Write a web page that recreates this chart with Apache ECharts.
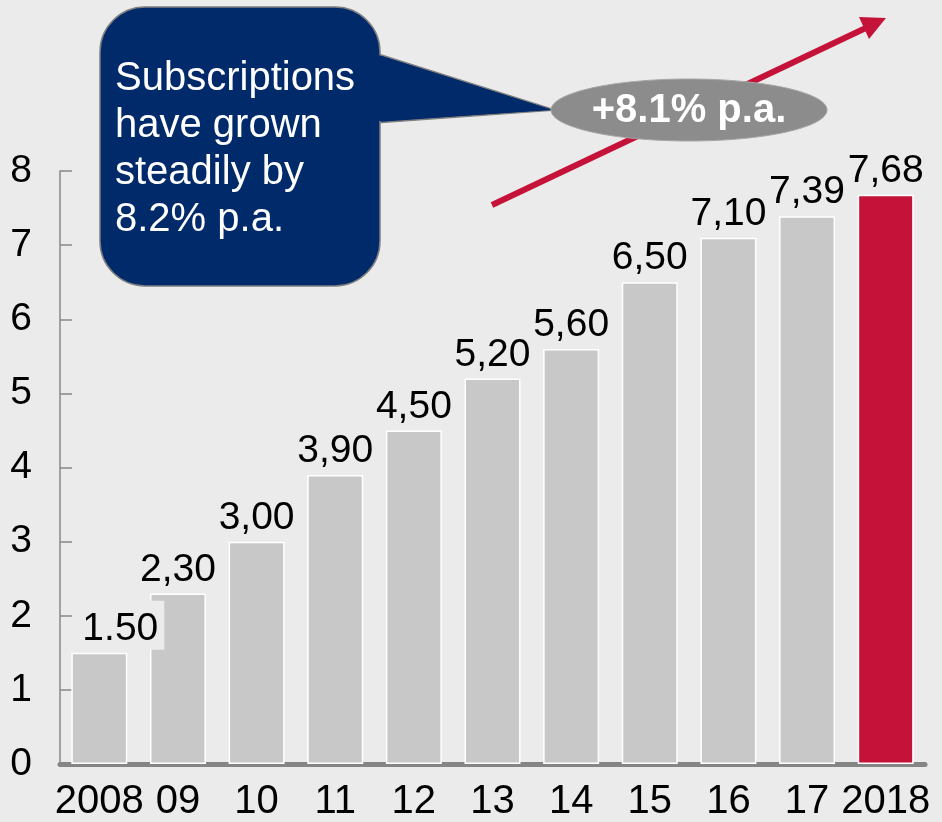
<!DOCTYPE html>
<html>
<head>
<meta charset="utf-8">
<script src="https://cdn.jsdelivr.net/npm/echarts@6/dist/echarts.min.js"></script>
<style>
html,body{margin:0;padding:0;background:#ebebeb;}
#c{width:942px;height:822px;}
</style>
</head>
<body>
<div id="c"></div>
<script>
const categories = ['2008','09','10','11','12','13','14','15','16','17','2018'];
const values = [1.50, 2.30, 3.00, 3.90, 4.50, 5.20, 5.60, 6.50, 7.10, 7.39, 7.68];
const valueLabels = ['1.50','2,30','3,00','3,90','4,50','5,20','5,60','6,50','7,10','7,39','7,68'];
const yTicks = [0,1,2,3,4,5,6,7,8];
const calloutText = 'Subscriptions\nhave grown\nsteadily by\n8.2% p.a.';
const growthText = '+8.1% p.a.';

const FONT = '"Liberation Sans", Arial, sans-serif';
const chart = echarts.init(document.getElementById('c'));

const data = values.map((v, i) => {
  const d = {
    value: v,
    itemStyle: { color: i === values.length - 1 ? '#c41239' : '#c8c8c8' }
  };
  if (i === 0) d.label = { offset: [23, 0], padding: [9, 6, 1, 2] };
  return d;
});

chart.setOption({
  backgroundColor: '#ebebeb',
  animation: false,
  grid: { left: 60, right: 17, top: 171, bottom: 57, containLabel: false },
  xAxis: {
    type: 'category',
    data: categories,
    axisLine: { lineStyle: { color: '#858585', width: 5 } },
    axisTick: { show: false },
    axisLabel: { color: '#000', fontSize: 40, fontFamily: FONT, margin: 18, interval: 0 }
  },
  yAxis: {
    type: 'value',
    min: yTicks[0],
    max: yTicks[yTicks.length - 1],
    interval: 1,
    splitLine: { show: false },
    axisLine: { show: true, lineStyle: { color: '#888', width: 1.5 } },
    axisTick: { show: true, inside: true, length: 12, lineStyle: { color: '#888', width: 1.5 } },
    axisLabel: { color: '#000', fontSize: 39, fontFamily: FONT, margin: 28 }
  },
  series: [{
    type: 'bar',
    data: data,
    barWidth: 56,
    itemStyle: { borderColor: '#ffffff', borderWidth: 1.5 },
    label: {
      show: true,
      position: 'top',
      distance: 3,
      color: '#000',
      fontSize: 39,
      fontFamily: FONT,
      backgroundColor: '#ebebeb',
      padding: [3, 1, 1, 1],
      formatter: p => valueLabels[p.dataIndex]
    },
    z: 2
  }],
  graphic: [
    {
      type: 'polygon',
      z: 10,
      shape: { points: [[375, 53], [555, 110], [375, 123]] },
      style: { fill: '#002a69', stroke: '#7f7f7f', lineWidth: 1.5 }
    },
    {
      type: 'rect',
      z: 11,
      shape: { x: 100, y: 7, width: 280, height: 279, r: 45 },
      style: { fill: '#002a69', stroke: '#7f7f7f', lineWidth: 1.5 }
    },
    {
      type: 'polygon',
      z: 12,
      shape: { points: [[378, 55], [553, 110], [378, 121]] },
      style: { fill: '#002a69' }
    },
    {
      type: 'text',
      z: 13,
      x: 115,
      y: 55,
      style: {
        text: calloutText,
        fill: '#ffffff',
        font: '40px ' + FONT,
        lineHeight: 47,
        verticalAlign: 'top',
        align: 'left'
      }
    },
    {
      type: 'line',
      z: 14,
      shape: { x1: 492, y1: 205, x2: 870, y2: 26 },
      style: { stroke: '#c41239', lineWidth: 6 }
    },
    {
      type: 'polygon',
      z: 14,
      shape: { points: [[886, 18], [859, 17], [869, 39]] },
      style: { fill: '#c41239' }
    },
    {
      type: 'ellipse',
      z: 15,
      shape: { cx: 689, cy: 110, rx: 138, ry: 31 },
      style: { fill: '#8c8c8c', stroke: '#a6a6a6', lineWidth: 1 }
    },
    {
      type: 'text',
      z: 16,
      x: 689,
      y: 111,
      style: {
        text: growthText,
        fill: '#ffffff',
        font: 'bold 40px ' + FONT,
        align: 'center',
        verticalAlign: 'middle'
      }
    }
  ]
});
</script>
</body>
</html>
